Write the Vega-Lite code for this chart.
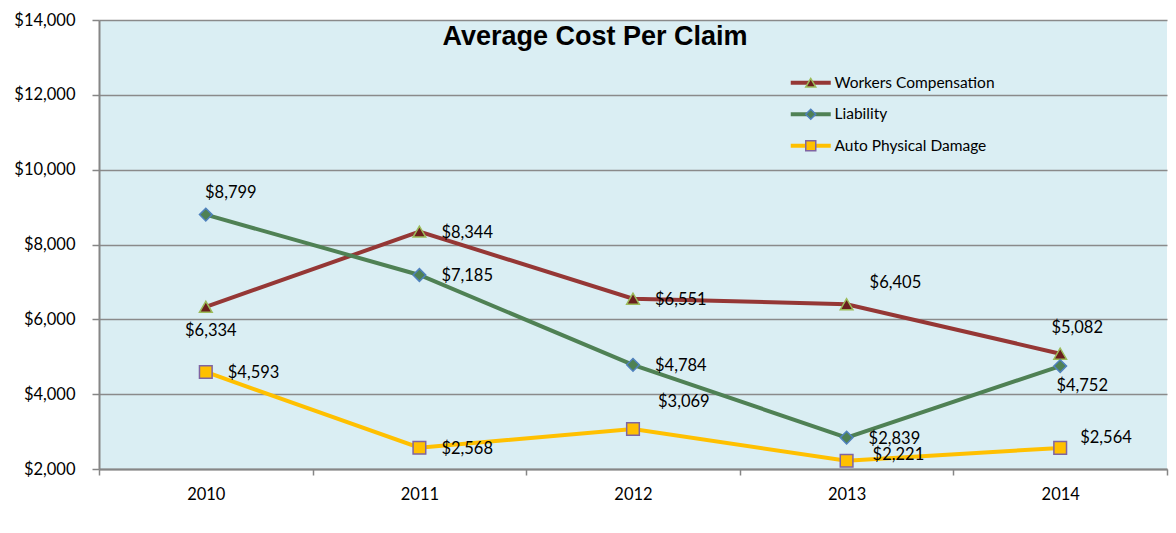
{
  "$schema": "https://vega.github.io/schema/vega-lite/v6.json",
  "width": 1068,
  "height": 449,
  "autosize": {"type": "none"},
  "padding": {"left": 99, "top": 20, "right": 9, "bottom": 64},
  "background": "#ffffff",
  "title": {
    "text": "Average Cost Per Claim",
    "font": "Liberation Sans",
    "fontSize": 27,
    "fontWeight": "bold",
    "color": "#000000",
    "anchor": "middle",
    "frame": "group",
    "dx": -38,
    "offset": -60,
    "baseline": "alphabetic"
  },
  "data": {
    "values": [
      {"year": "2010", "series": "Workers Compensation", "cost": 6334},
      {"year": "2011", "series": "Workers Compensation", "cost": 8344},
      {"year": "2012", "series": "Workers Compensation", "cost": 6551},
      {"year": "2013", "series": "Workers Compensation", "cost": 6405},
      {"year": "2014", "series": "Workers Compensation", "cost": 5082},
      {"year": "2010", "series": "Liability", "cost": 8799},
      {"year": "2011", "series": "Liability", "cost": 7185},
      {"year": "2012", "series": "Liability", "cost": 4784},
      {"year": "2013", "series": "Liability", "cost": 2839},
      {"year": "2014", "series": "Liability", "cost": 4752},
      {"year": "2010", "series": "Auto Physical Damage", "cost": 4593},
      {"year": "2011", "series": "Auto Physical Damage", "cost": 2568},
      {"year": "2012", "series": "Auto Physical Damage", "cost": 3069},
      {"year": "2013", "series": "Auto Physical Damage", "cost": 2221},
      {"year": "2014", "series": "Auto Physical Damage", "cost": 2564}
    ]
  },
  "encoding": {
    "x": {
      "field": "year",
      "type": "ordinal",
      "scale": {"type": "band", "paddingInner": 0, "paddingOuter": 0},
      "axis": {
        "title": null,
        "labelAngle": 0,
        "tickBand": "extent",
        "grid": false,
        "domainColor": "#868686",
        "domainWidth": 2,
        "tickColor": "#868686",
        "tickWidth": 1.5,
        "tickSize": 6,
        "labelPadding": 11,
        "labelFont": "Lato",
        "labelFontSize": 16.5,
        "labelColor": "#000000"
      }
    },
    "y": {
      "field": "cost",
      "type": "quantitative",
      "scale": {"domain": [2000, 14000], "nice": false, "zero": false},
      "axis": {
        "title": null,
        "values": [2000, 4000, 6000, 8000, 10000, 12000, 14000],
        "format": "$,.0f",
        "grid": true,
        "gridColor": "#8a8a8a",
        "gridWidth": 1.5,
        "domainColor": "#868686",
        "domainWidth": 2,
        "tickColor": "#868686",
        "tickWidth": 1.5,
        "tickSize": 7,
        "labelPadding": 17,
        "labelFont": "Lato",
        "labelFontSize": 16.5,
        "labelColor": "#000000"
      }
    }
  },
  "layer": [
    {
      "mark": {"type": "line", "strokeWidth": 4},
      "encoding": {
        "color": {
          "field": "series",
          "type": "nominal",
          "sort": ["Workers Compensation", "Liability", "Auto Physical Damage"],
          "scale": {"range": ["#953735", "#4F8154", "#FFC000"]},
          "legend": {
            "title": null,
            "symbolType": "M-4,0H4",
            "symbolStrokeWidth": 4
          }
        }
      }
    },
    {
      "mark": {"type": "point", "filled": true, "opacity": 1, "size": 160, "strokeWidth": 1.5},
      "encoding": {
        "shape": {
          "field": "series",
          "type": "nominal",
          "scale": {"domain": ["Workers Compensation", "Liability", "Auto Physical Damage"], "range": ["triangle-up", "diamond", "square"]},
          "legend": {"title": null, "symbolStrokeWidth": 1.5, "labelOpacity": 0}
        },
        "fill": {
          "field": "series",
          "type": "nominal",
          "scale": {"domain": ["Workers Compensation", "Liability", "Auto Physical Damage"], "range": ["#6B1F1D", "#4F8154", "#FFC000"]},
          "legend": {"title": null, "symbolStrokeWidth": 1.5, "labelOpacity": 0}
        },
        "stroke": {
          "field": "series",
          "type": "nominal",
          "scale": {"domain": ["Workers Compensation", "Liability", "Auto Physical Damage"], "range": ["#9BBB59", "#4F81BD", "#7F64A2"]},
          "legend": {"title": null, "symbolStrokeWidth": 1.5, "labelOpacity": 0}
        }
      }
    },
    {
      "transform": [{"filter": "(datum.series == 'Workers Compensation' && (datum.year == '2011' || datum.year == '2012')) || (datum.series == 'Liability' && (datum.year == '2011' || datum.year == '2012' || datum.year == '2013')) || (datum.series == 'Auto Physical Damage' && (datum.year == '2010' || datum.year == '2011'))"}],
      "mark": {"type": "text", "font": "Lato", "fontSize": 16.5, "color": "#000000", "align": "left", "baseline": "middle", "dx": 22, "dy": 1},
      "encoding": {"text": {"field": "cost", "type": "quantitative", "format": "$,.0f"}}
    },
    {
      "transform": [{"filter": "datum.series == 'Workers Compensation' && datum.year == '2010'"}],
      "mark": {"type": "text", "font": "Lato", "fontSize": 16.5, "color": "#000000", "align": "center", "baseline": "middle", "dx": 5, "dy": 24},
      "encoding": {"text": {"field": "cost", "type": "quantitative", "format": "$,.0f"}}
    },
    {
      "transform": [{"filter": "datum.series == 'Workers Compensation' && datum.year == '2013'"}],
      "mark": {"type": "text", "font": "Lato", "fontSize": 16.5, "color": "#000000", "align": "left", "baseline": "middle", "dx": 23, "dy": -21},
      "encoding": {"text": {"field": "cost", "type": "quantitative", "format": "$,.0f"}}
    },
    {
      "transform": [{"filter": "datum.series == 'Workers Compensation' && datum.year == '2014'"}],
      "mark": {"type": "text", "font": "Lato", "fontSize": 16.5, "color": "#000000", "align": "center", "baseline": "middle", "dx": 17, "dy": -26},
      "encoding": {"text": {"field": "cost", "type": "quantitative", "format": "$,.0f"}}
    },
    {
      "transform": [{"filter": "datum.series == 'Liability' && datum.year == '2010'"}],
      "mark": {"type": "text", "font": "Lato", "fontSize": 16.5, "color": "#000000", "align": "center", "baseline": "middle", "dx": 25, "dy": -22},
      "encoding": {"text": {"field": "cost", "type": "quantitative", "format": "$,.0f"}}
    },
    {
      "transform": [{"filter": "datum.series == 'Liability' && datum.year == '2014'"}],
      "mark": {"type": "text", "font": "Lato", "fontSize": 16.5, "color": "#000000", "align": "center", "baseline": "middle", "dx": 22, "dy": 20},
      "encoding": {"text": {"field": "cost", "type": "quantitative", "format": "$,.0f"}}
    },
    {
      "transform": [{"filter": "datum.series == 'Auto Physical Damage' && datum.year == '2012'"}],
      "mark": {"type": "text", "font": "Lato", "fontSize": 16.5, "color": "#000000", "align": "left", "baseline": "middle", "dx": 25, "dy": -27},
      "encoding": {"text": {"field": "cost", "type": "quantitative", "format": "$,.0f"}}
    },
    {
      "transform": [{"filter": "datum.series == 'Auto Physical Damage' && datum.year == '2013'"}],
      "mark": {"type": "text", "font": "Lato", "fontSize": 16.5, "color": "#000000", "align": "left", "baseline": "middle", "dx": 26, "dy": -6},
      "encoding": {"text": {"field": "cost", "type": "quantitative", "format": "$,.0f"}}
    },
    {
      "transform": [{"filter": "datum.series == 'Auto Physical Damage' && datum.year == '2014'"}],
      "mark": {"type": "text", "font": "Lato", "fontSize": 16.5, "color": "#000000", "align": "left", "baseline": "middle", "dx": 20, "dy": -10},
      "encoding": {"text": {"field": "cost", "type": "quantitative", "format": "$,.0f"}}
    }
  ],
  "config": {
    "view": {"fill": "#DAEEF3", "stroke": null},
    "legend": {
      "orient": "none",
      "legendX": 704,
      "legendY": 55,
      "padding": 0,
      "rowPadding": 13.5,
      "labelFont": "Lato",
      "labelFontSize": 15.5,
      "labelColor": "#000000",
      "labelOffset": 16,
      "labelLimit": 400,
      "symbolSize": 100
    }
  }
}
